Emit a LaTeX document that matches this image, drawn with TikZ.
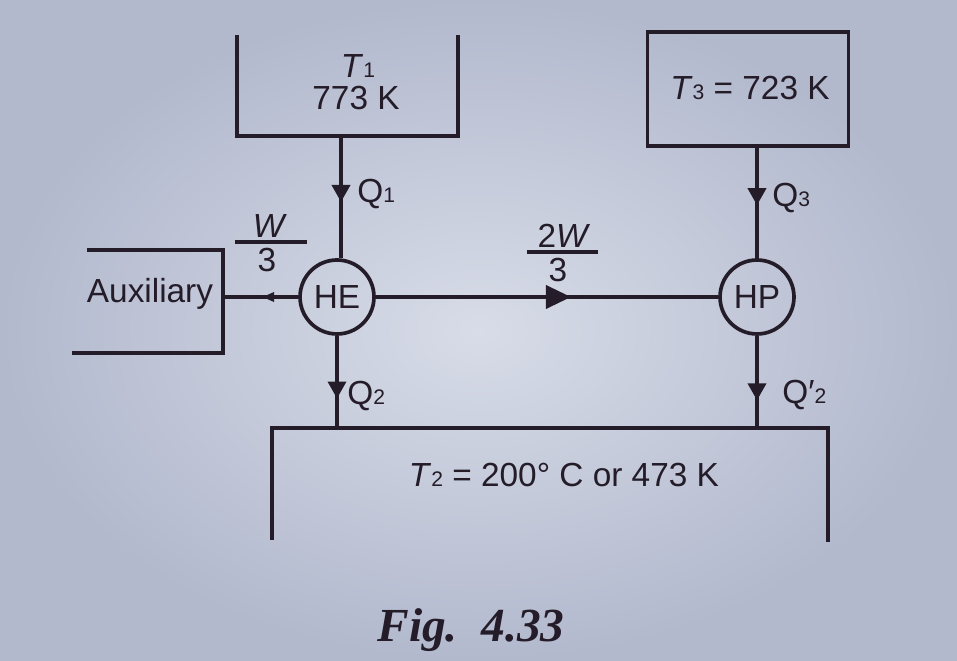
\documentclass[tikz,border=0pt]{standalone}
\usepackage{fontspec}
\setmainfont{Liberation Sans}
\newfontfamily\figfont{Liberation Serif}
\usetikzlibrary{arrows.meta,decorations.markings}
\definecolor{paper}{RGB}{216,220,232}
\definecolor{paperedge}{RGB}{178,185,205}
\definecolor{ink}{RGB}{36,28,40}
\newcommand{\lowsub}[1]{{\fontsize{12}{12}\selectfont #1}}

\tikzset{
  wall/.style={draw=ink, color=ink, line width=2.1pt},
  machine/.style={circle, draw=ink, line width=2.1pt, minimum size=1.48cm, inner sep=0pt},
  txt/.style={text=ink, inner sep=0pt},
  flow/.style={wall, postaction={decorate, decoration={markings,
    mark=at position #1 with {\arrow{Triangle[width=0.36cm,length=0.34cm]}}}}},
  bigflow/.style={wall, postaction={decorate, decoration={markings,
    mark=at position #1 with {\arrow{Triangle[width=0.46cm,length=0.5cm]}}}}},
  smallflow/.style={wall, postaction={decorate, decoration={markings,
    mark=at position #1 with {\arrow{Triangle[width=0.18cm,length=0.24cm]}}}}}
}

\begin{document}
\begin{tikzpicture}[x=0.02cm, y=-0.02cm, font=\fontsize{19}{22}\selectfont]
	% paper
	\shade [inner color=paper, outer color=paperedge] (0, 0) rectangle (957, 661);
	\useasboundingbox (0, 0) rectangle (957, 661);

	% reservoirs
	\draw [wall] (237, 35) -- (237, 136) -- (458, 136) -- (458, 35);
	\coordinate (t1b) at (341, 136);
	\node [txt, anchor=base] (t1name) at (358, 78) {\textit{T}\lowsub{1}};
	\node [txt, anchor=base] (t1val) at (356, 110) {773 K};

	\node [txt, draw=ink, line width=2.1pt, minimum width=4.02cm, minimum height=2.28cm] (T3) at (748, 89) {};
	\node [txt, anchor=base] (t3val) at (750, 100) {\textit{T}\lowsub{3} = 723 K};

	\draw [wall] (272, 540) -- (272, 428) -- (828, 428) -- (828, 542);
	\coordinate (t2l) at (337, 428);
	\coordinate (t2r) at (757, 428);
	\node [txt, anchor=base] (t2val) at (564, 487) {\textit{T}\lowsub{2} = 200° C or 473 K};

	\draw [wall] (87, 250) -- (223, 250) -- (223, 353) -- (72, 353);
	\coordinate (auxr) at (223, 297);
	\node [txt, anchor=base] (aux) at (150, 303) {Auxiliary};

	% engine and pump
	\node [machine, txt] (HE) at (337, 297) {HE};
	\node [machine, txt] (HP) at (757, 297) {HP};

	% heat and work flows
	\draw [flow=0.54] (t1b) -- (HE.north -| t1b);
	\draw [flow=0.52] (T3.south -| HP) -- (HP.north);
	\draw [flow=0.68] (HE.south) -- (t2l);
	\draw [flow=0.70] (HP.south) -- (t2r);
	\draw [bigflow=0.57] (HE.east) -- (HP.west);
	\draw [smallflow=0.48] (HE.west) -- (auxr);

	\node [txt, anchor=base west] (q1) at (357, 203) {Q\lowsub{1}};
	\node [txt, anchor=base west] (q3) at (772, 207) {Q\lowsub{3}};
	\node [txt, anchor=base west] (q2) at (347, 405) {Q\lowsub{2}};
	\node [txt, anchor=base west] (q2p) at (782, 404) {Q′\lowsub{2}};

	% work fractions
	\node [txt, anchor=base] (wnum) at (270, 238) {\textit{W}};
	\node [txt, anchor=base] (wden) at (267, 272) {3};
	\draw [wall] (235, 242) -- (307, 242);
	\node [txt, anchor=base] (wwnum) at (564, 248) {2\textit{W}};
	\node [txt, anchor=base] (wwden) at (558, 282) {3};
	\draw [wall] (527, 252) -- (598, 252);

	% caption
	\node [txt, anchor=base] (cap) at (471, 642) {\figfont\fontsize{27}{30}\selectfont\bfseries\itshape Fig.\ \ 4.33};
\end{tikzpicture}
\end{document}
